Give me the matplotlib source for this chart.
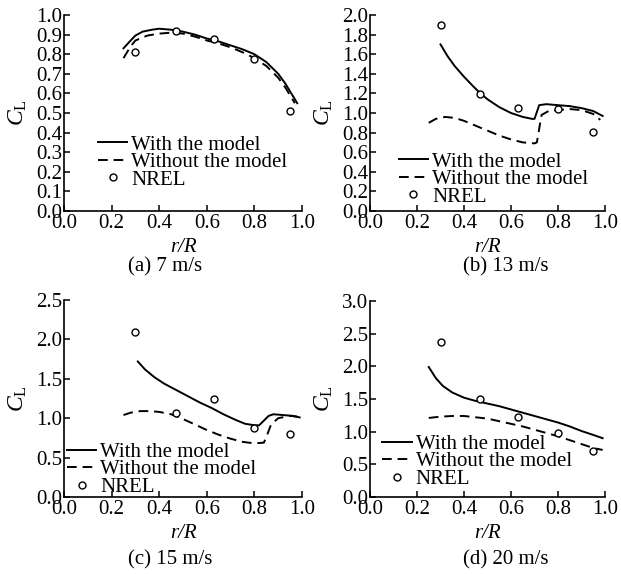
import matplotlib
matplotlib.use("Agg")
import matplotlib.pyplot as plt
from matplotlib.ticker import FormatStrFormatter, MultipleLocator
from matplotlib.lines import Line2D

plt.rcParams['font.family'] = ['Liberation Serif', 'DejaVu Serif']
plt.rcParams['mathtext.fontset'] = 'custom'
plt.rcParams['mathtext.rm'] = 'Liberation Serif'
plt.rcParams['mathtext.it'] = 'Liberation Serif:italic'

FS = 15

# ---------------- data ----------------
nrel_r = [0.30, 0.47, 0.63, 0.80, 0.95]

# (a) 7 m/s
a_with_r = [0.25, 0.28, 0.30, 0.33, 0.37, 0.40, 0.45, 0.50, 0.55, 0.60, 0.65, 0.70, 0.75, 0.80, 0.85, 0.90, 0.93, 0.96, 0.98]
a_with_cl = [0.83, 0.87, 0.895, 0.915, 0.925, 0.93, 0.925, 0.915, 0.90, 0.88, 0.865, 0.845, 0.825, 0.80, 0.76, 0.70, 0.65, 0.59, 0.55]
a_wo_r = [0.25, 0.28, 0.30, 0.35, 0.40, 0.45, 0.50, 0.55, 0.60, 0.65, 0.70, 0.75, 0.80, 0.85, 0.90, 0.93, 0.96, 0.97]
a_wo_cl = [0.78, 0.84, 0.87, 0.895, 0.905, 0.91, 0.905, 0.89, 0.87, 0.855, 0.835, 0.81, 0.78, 0.74, 0.68, 0.63, 0.57, 0.55]
a_nrel = [0.81, 0.92, 0.875, 0.775, 0.51]

# (b) 13 m/s
b_with_r = [0.30, 0.33, 0.36, 0.40, 0.44, 0.47, 0.50, 0.55, 0.60, 0.65, 0.69, 0.70, 0.72, 0.75, 0.80, 0.85, 0.90, 0.95, 0.99]
b_with_cl = [1.70, 1.58, 1.48, 1.37, 1.27, 1.20, 1.14, 1.06, 1.00, 0.96, 0.94, 0.94, 1.08, 1.09, 1.08, 1.07, 1.05, 1.02, 0.97]
b_wo_r = [0.25, 0.28, 0.32, 0.36, 0.40, 0.45, 0.50, 0.55, 0.60, 0.65, 0.70, 0.71, 0.73, 0.76, 0.80, 0.85, 0.90, 0.95, 0.98]
b_wo_cl = [0.90, 0.94, 0.96, 0.95, 0.92, 0.87, 0.82, 0.77, 0.73, 0.70, 0.69, 0.70, 0.98, 1.02, 1.03, 1.04, 1.03, 0.99, 0.93]
b_nrel = [1.90, 1.19, 1.05, 1.04, 0.81]

# (c) 15 m/s
c_with_r = [0.31, 0.34, 0.38, 0.42, 0.47, 0.52, 0.57, 0.62, 0.67, 0.72, 0.76, 0.80, 0.82, 0.84, 0.86, 0.88, 0.92, 0.96, 0.99]
c_with_cl = [1.72, 1.62, 1.52, 1.44, 1.36, 1.28, 1.20, 1.13, 1.05, 0.98, 0.93, 0.91, 0.91, 0.97, 1.03, 1.05, 1.04, 1.03, 1.01]
c_wo_r = [0.25, 0.28, 0.32, 0.36, 0.40, 0.45, 0.50, 0.55, 0.60, 0.65, 0.70, 0.75, 0.80, 0.84, 0.855, 0.87, 0.90, 0.95, 0.98]
c_wo_cl = [1.04, 1.07, 1.09, 1.09, 1.08, 1.05, 0.99, 0.92, 0.85, 0.79, 0.74, 0.70, 0.68, 0.69, 0.80, 0.92, 1.00, 1.03, 1.02]
c_nrel = [2.10, 1.07, 1.24, 0.875, 0.80]

# (d) 20 m/s
d_with_r = [0.25, 0.28, 0.31, 0.35, 0.40, 0.45, 0.50, 0.55, 0.60, 0.65, 0.70, 0.75, 0.80, 0.85, 0.90, 0.95, 0.99]
d_with_cl = [1.99, 1.82, 1.70, 1.60, 1.52, 1.47, 1.43, 1.39, 1.34, 1.29, 1.24, 1.19, 1.14, 1.08, 1.01, 0.95, 0.90]
d_wo_r = [0.25, 0.30, 0.35, 0.40, 0.45, 0.50, 0.55, 0.60, 0.65, 0.70, 0.75, 0.80, 0.85, 0.90, 0.95, 0.99]
d_wo_cl = [1.21, 1.23, 1.24, 1.24, 1.22, 1.20, 1.16, 1.12, 1.08, 1.03, 0.98, 0.93, 0.87, 0.81, 0.75, 0.72]
d_nrel = [2.38, 1.50, 1.22, 0.98, 0.70]

x_ticks = [0.0, 0.2, 0.4, 0.6, 0.8, 1.0]
labels = ["With the model", "Without the model", "NREL"]
captions = ["(a) 7 m/s", "(b) 13 m/s", "(c) 15 m/s", "(d) 20 m/s"]

panels = [
    dict(wr=a_with_r, wc=a_with_cl, nr=a_wo_r, nc=a_wo_cl, p=a_nrel, ymax=1.0, ystep=0.1,
         rect=[64/621, 1-211/574, 238/621, 196/574], leg=(0.143, 0.387), cap=(165, 267)),
    dict(wr=b_with_r, wc=b_with_cl, nr=b_wo_r, nc=b_wo_cl, p=b_nrel, ymax=2.0, ystep=0.2,
         rect=[370/621, 1-211/574, 235/621, 196/574], leg=(0.123, 0.30), cap=(506, 267)),
    dict(wr=c_with_r, wc=c_with_cl, nr=c_wo_r, nc=c_wo_cl, p=c_nrel, ymax=2.5, ystep=0.5,
         rect=[64/621, 1-497/574, 238/621, 197/574], leg=(0.013, 0.278), cap=(170, 560)),
    dict(wr=d_with_r, wc=d_with_cl, nr=d_wo_r, nc=d_wo_cl, p=d_nrel, ymax=3.0, ystep=0.5,
         rect=[370/621, 1-497/574, 235/621, 196/574], leg=(0.053, 0.32), cap=(506, 560)),
]

fig = plt.figure(figsize=(6.21, 5.74), dpi=100)

for i, P in enumerate(panels):
    ax = fig.add_axes(P['rect'])
    ax.plot(P['wr'], P['wc'], color='black', lw=1.4, ls='-')
    ax.plot(P['nr'], P['nc'], color='black', lw=1.4, ls=(0, (5, 3)))
    ax.plot(nrel_r, P['p'], ls='none', marker='o', ms=5, mfc='white', mec='black', mew=1.0)
    ax.set_xlim(0, 1.0)
    ax.set_ylim(0, P['ymax'])
    ax.set_xticks(x_ticks)
    ax.yaxis.set_major_locator(MultipleLocator(P['ystep']))
    ax.xaxis.set_major_formatter(FormatStrFormatter('%.1f'))
    ax.yaxis.set_major_formatter(FormatStrFormatter('%.1f'))
    for s in ['top', 'right']:
        ax.spines[s].set_visible(False)
    for s in ['left', 'bottom']:
        ax.spines[s].set_linewidth(1.2)
    ax.tick_params(direction='in', length=4, width=1.1, labelsize=FS, pad=1.5)
    ax.tick_params(axis='x', pad=2)
    ax.set_xlabel('r/R', fontsize=FS, fontstyle='italic', labelpad=4)
    ax.set_ylabel(r'$C_{\mathrm{L}}$', fontsize=FS + 2, labelpad=5)
    handles = [Line2D([], [], color='black', lw=1.4, ls='-'),
               Line2D([], [], color='black', lw=1.4, ls=(0, (5, 3))),
               Line2D([], [], ls='none', marker='o', ms=5, mfc='white', mec='black', mew=1.0)]
    ax.legend(handles, labels, loc='upper left', bbox_to_anchor=P['leg'], frameon=False,
              fontsize=FS, handlelength=1.4, handletextpad=0.2, labelspacing=-0.1,
              borderpad=0, borderaxespad=0)
    cx, cy = P['cap']
    fig.text(cx/621, 1-cy/574, captions[i], ha='center', va='center', fontsize=FS)

fig.savefig('out.png', dpi=100)
